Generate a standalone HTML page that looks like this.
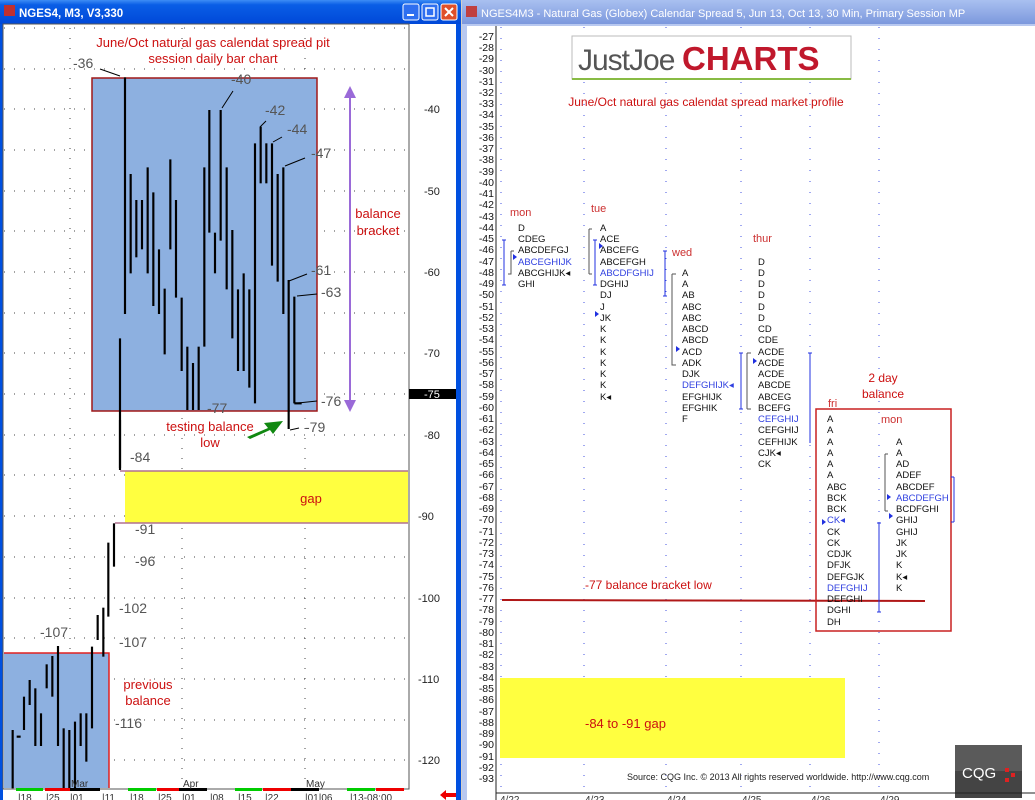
<!DOCTYPE html>
<html><head><meta charset="utf-8"><style>
body{margin:0;width:1035px;height:800px;overflow:hidden;background:#d4d0c8;font-family:"Liberation Sans",sans-serif;}
svg{position:absolute;left:0;top:0}
</style></head><body>
<svg width="1035" height="800" viewBox="0 0 1035 800" font-family="Liberation Sans, sans-serif">
<defs>
<linearGradient id="tb" x1="0" y1="0" x2="0" y2="1"><stop offset="0" stop-color="#3d8df5"/><stop offset="0.2" stop-color="#0a5ee6"/><stop offset="1" stop-color="#0048d8"/></linearGradient>
<linearGradient id="tb2" x1="0" y1="0" x2="0" y2="1"><stop offset="0" stop-color="#a9c0f0"/><stop offset="1" stop-color="#7c98dd"/></linearGradient>
</defs>
<!-- LEFT WINDOW -->
<rect x="0" y="0" width="461" height="800" fill="#0050e0"/>
<rect x="0" y="0" width="461" height="24" fill="url(#tb)"/>
<rect x="4" y="5" width="11" height="11" fill="#c03030"/>
<text x="19" y="17" font-size="11.5" font-weight="bold" fill="#fff">NGES4, M3, V3,330</text>
<rect x="403" y="4" width="16" height="16" rx="2" fill="#2e6ff0" stroke="#fff"/>
<rect x="407" y="14" width="7" height="2" fill="#fff"/>
<rect x="422" y="4" width="16" height="16" rx="2" fill="#2e6ff0" stroke="#fff"/>
<rect x="426" y="8" width="8" height="8" fill="none" stroke="#fff" stroke-width="1.5"/>
<rect x="441" y="4" width="16" height="16" rx="2" fill="#e0502a" stroke="#fff"/>
<path d="M445 8l8 8M453 8l-8 8" stroke="#fff" stroke-width="2"/>
<rect x="3" y="24" width="453" height="776" fill="#fff"/>
<rect x="3" y="24" width="406" height="765" fill="#fff" stroke="#555" stroke-width="1"/>
<!-- grid -->
<g stroke="#444" stroke-dasharray="1,9" stroke-width="1">
<line x1="4" y1="28" x2="408" y2="28"/><line x1="4" y1="69" x2="408" y2="69"/><line x1="4" y1="109" x2="408" y2="109"/><line x1="4" y1="150" x2="408" y2="150"/><line x1="4" y1="191" x2="408" y2="191"/><line x1="4" y1="231" x2="408" y2="231"/><line x1="4" y1="272" x2="408" y2="272"/><line x1="4" y1="313" x2="408" y2="313"/><line x1="4" y1="353" x2="408" y2="353"/><line x1="4" y1="394" x2="408" y2="394"/><line x1="4" y1="435" x2="408" y2="435"/><line x1="4" y1="475" x2="408" y2="475"/><line x1="4" y1="516" x2="408" y2="516"/><line x1="4" y1="557" x2="408" y2="557"/><line x1="4" y1="598" x2="408" y2="598"/><line x1="4" y1="638" x2="408" y2="638"/><line x1="4" y1="679" x2="408" y2="679"/><line x1="4" y1="720" x2="408" y2="720"/><line x1="4" y1="760" x2="408" y2="760"/>
<line x1="70" y1="28" x2="70" y2="788"/><line x1="182" y1="28" x2="182" y2="788"/><line x1="305" y1="28" x2="305" y2="788"/>
</g>
<!-- balance box -->
<rect x="92" y="78" width="225" height="333" fill="#8db0e0" stroke="#a01818" stroke-width="1.5"/>
<rect x="125" y="471" width="283" height="52" fill="#ffff40"/>
<line x1="120" y1="471" x2="408" y2="471" stroke="#b07090" stroke-width="1.5"/>
<line x1="115" y1="523" x2="408" y2="523" stroke="#b07090" stroke-width="1.5"/>
<rect x="4" y="653" width="105" height="135" fill="#8db0e0"/>
<path d="M4 653H109V788" fill="none" stroke="#e02020" stroke-width="1.5"/>
<!-- bars zoom1 coords -->
<g transform="scale(0.33333)" stroke="#000" stroke-width="6.5">
<line x1="360" y1="1015" x2="360" y2="1404"/><line x1="375" y1="232" x2="375" y2="942"/><line x1="392" y1="522" x2="392" y2="820"/><line x1="409" y1="600" x2="409" y2="772"/><line x1="426" y1="600" x2="426" y2="748"/><line x1="443" y1="502" x2="443" y2="820"/><line x1="460" y1="577" x2="460" y2="918"/><line x1="477" y1="748" x2="477" y2="942"/><line x1="494" y1="866" x2="494" y2="1063"/><line x1="511" y1="478" x2="511" y2="748"/><line x1="528" y1="600" x2="528" y2="893"/><line x1="545" y1="893" x2="545" y2="1113"/><line x1="562" y1="1040" x2="562" y2="1230"/><line x1="579" y1="1089" x2="579" y2="1230"/><line x1="596" y1="1040" x2="596" y2="1230"/><line x1="613" y1="502" x2="613" y2="1040"/><line x1="628" y1="330" x2="628" y2="698"/><line x1="645" y1="698" x2="645" y2="820"/><line x1="662" y1="330" x2="662" y2="722"/><line x1="680" y1="502" x2="680" y2="868"/><line x1="697" y1="690" x2="697" y2="1015"/><line x1="714" y1="868" x2="714" y2="1113"/><line x1="731" y1="820" x2="731" y2="1113"/><line x1="748" y1="868" x2="748" y2="1163"/><line x1="765" y1="430" x2="765" y2="1210"/><line x1="782" y1="380" x2="782" y2="550"/><line x1="799" y1="430" x2="799" y2="550"/><line x1="816" y1="430" x2="816" y2="797"/><line x1="833" y1="522" x2="833" y2="845"/><line x1="850" y1="502" x2="850" y2="942"/><line x1="866" y1="840" x2="866" y2="1287"/><line x1="883" y1="890" x2="883" y2="1210"/><line x1="883" y1="1210" x2="905" y2="1210"/>
</g>
<g transform="translate(0,420) scale(0.33333)" stroke="#000" stroke-width="6.5">
<line x1="38" y1="930" x2="38" y2="1105"/><line x1="50" y1="950" x2="62" y2="950"/><line x1="72" y1="830" x2="72" y2="930"/><line x1="89" y1="780" x2="89" y2="855"/><line x1="106" y1="805" x2="106" y2="978"/><line x1="123" y1="880" x2="123" y2="978"/><line x1="140" y1="733" x2="140" y2="805"/><line x1="157" y1="708" x2="157" y2="830"/><line x1="174" y1="678" x2="174" y2="978"/><line x1="191" y1="925" x2="191" y2="1105"/><line x1="208" y1="930" x2="208" y2="1105"/><line x1="225" y1="905" x2="225" y2="1105"/><line x1="242" y1="880" x2="242" y2="978"/><line x1="259" y1="880" x2="259" y2="1025"/><line x1="276" y1="680" x2="276" y2="925"/><line x1="293" y1="585" x2="293" y2="660"/><line x1="310" y1="563" x2="310" y2="710"/><line x1="325" y1="368" x2="325" y2="590"/><line x1="342" y1="310" x2="342" y2="440"/><line x1="360" y1="0" x2="360" y2="150"/>
</g>
<!-- labels left -->
<g font-size="14" fill="#555">
<text x="73" y="68">-36</text><text x="231" y="84">-40</text><text x="265" y="115">-42</text><text x="287" y="134">-44</text><text x="311" y="158">-47</text><text x="311" y="275">-61</text><text x="321" y="297">-63</text><text x="321" y="406">-76</text><text x="207" y="413">-77</text><text x="305" y="432">-79</text><text x="130" y="462">-84</text><text x="135" y="534">-91</text><text x="135" y="566">-96</text><text x="119" y="613">-102</text><text x="119" y="647">-107</text><text x="40" y="637">-107</text><text x="115" y="728">-116</text>
</g>
<g stroke="#000" stroke-width="1"><line x1="100" y1="69" x2="120" y2="76"/><line x1="233" y1="91" x2="222" y2="108"/><line x1="266" y1="121" x2="260" y2="127"/><line x1="282" y1="137" x2="273" y2="142"/><line x1="305" y1="158" x2="285" y2="166"/><line x1="307" y1="274" x2="289" y2="281"/><line x1="317" y1="294" x2="297" y2="296"/><line x1="317" y1="401" x2="298" y2="403"/><line x1="299" y1="428" x2="290" y2="430"/></g>
<line x1="350" y1="90" x2="350" y2="408" stroke="#9a6ad8" stroke-width="2"/>
<path d="M344 98L350 86L356 98Z M344 400L350 412L356 400Z" fill="#9a6ad8"/>
<g fill="#cc1010" font-size="13" text-anchor="middle">
<text x="213" y="47">June/Oct natural gas calendat spread pit</text><text x="213" y="63">session daily bar chart</text>
<text x="378" y="218">balance</text><text x="378" y="235">bracket</text>
<text x="210" y="431">testing balance</text><text x="210" y="447">low</text>
<text x="311" y="503">gap</text>
<text x="148" y="689">previous</text><text x="148" y="705">balance</text>
</g>
<path d="M247 437L268 428L264 423L283 421L273 434L270 430L250 439Z" fill="#118811"/>
<!-- right axis -->
<g font-size="11" fill="#222">
<text x="424" y="113">-40</text><text x="424" y="195">-50</text><text x="424" y="276">-60</text><text x="424" y="357">-70</text><text x="424" y="439">-80</text><text x="418" y="520">-90</text><text x="418" y="602">-100</text><text x="418" y="683">-110</text><text x="418" y="764">-120</text>
</g>
<rect x="409" y="389" width="47" height="10" fill="#000"/><text x="424" y="398" font-size="11" fill="#fff">-75</text>
<!-- date axis -->
<rect x="16" y="788" width="27" height="3" fill="#0c0"/><rect x="45" y="788" width="25" height="3" fill="#e00"/><rect x="70" y="788" width="30" height="3" fill="#000"/>
<rect x="128" y="788" width="28" height="3" fill="#0c0"/><rect x="157" y="788" width="22" height="3" fill="#e00"/><rect x="179" y="788" width="28" height="3" fill="#000"/>
<rect x="235" y="788" width="27" height="3" fill="#0c0"/><rect x="263" y="788" width="28" height="3" fill="#e00"/><rect x="291" y="788" width="28" height="3" fill="#000"/>
<rect x="347" y="788" width="28" height="3" fill="#0c0"/><rect x="376" y="788" width="28" height="3" fill="#e00"/>
<g font-size="10" fill="#333"><text x="71" y="787">Mar</text><text x="183" y="787">Apr</text><text x="306" y="787">May</text>
<text x="18" y="801">|18 </text><text x="46" y="801">|25</text><text x="70" y="801">|01</text><text x="102" y="801">|11</text><text x="130" y="801">|18</text><text x="158" y="801">|25</text><text x="182" y="801">|01</text><text x="210" y="801">|08</text><text x="238" y="801">|15</text><text x="265" y="801">|22</text><text x="305" y="801">|01|06</text><text x="350" y="801">|13-08:00</text></g>
<path d="M440 795L446 790V793H456V797H446V800Z" fill="#e00"/>

<!-- RIGHT WINDOW -->
<rect x="462" y="0" width="573" height="800" fill="#b8c8f0"/>
<rect x="462" y="0" width="573" height="24" fill="url(#tb2)"/>
<rect x="466" y="6" width="11" height="11" fill="#c04040"/>
<text x="481" y="17" font-size="11" fill="#fff">NGES4M3 - Natural Gas (Globex) Calendar Spread 5, Jun 13, Oct 13, 30 Min, Primary Session MP</text>
<rect x="467" y="26" width="568" height="774" fill="#fff"/>
<line x1="496" y1="26" x2="496" y2="800" stroke="#222"/>
<g stroke="#4050e0" stroke-dasharray="1,10" stroke-width="1"><line x1="501" y1="27" x2="501" y2="795"/><line x1="584" y1="27" x2="584" y2="795"/><line x1="666" y1="27" x2="666" y2="795"/><line x1="741" y1="27" x2="741" y2="795"/><line x1="810" y1="27" x2="810" y2="795"/><line x1="879" y1="27" x2="879" y2="795"/></g>
<g font-size="10.5" fill="#111" text-anchor="end">
<text x="494" y="40">-27</text><text x="494" y="51">-28</text><text x="494" y="62">-29</text><text x="494" y="74">-30</text><text x="494" y="85">-31</text><text x="494" y="96">-32</text><text x="494" y="107">-33</text><text x="494" y="118">-34</text><text x="494" y="130">-35</text><text x="494" y="141">-36</text><text x="494" y="152">-37</text><text x="494" y="163">-38</text><text x="494" y="175">-39</text><text x="494" y="186">-40</text><text x="494" y="197">-41</text><text x="494" y="208">-42</text><text x="494" y="220">-43</text><text x="494" y="231">-44</text><text x="494" y="242">-45</text><text x="494" y="253">-46</text><text x="494" y="265">-47</text><text x="494" y="276">-48</text><text x="494" y="287">-49</text><text x="494" y="298">-50</text><text x="494" y="310">-51</text><text x="494" y="321">-52</text><text x="494" y="332">-53</text><text x="494" y="343">-54</text><text x="494" y="355">-55</text><text x="494" y="366">-56</text><text x="494" y="377">-57</text><text x="494" y="388">-58</text><text x="494" y="400">-59</text><text x="494" y="411">-60</text><text x="494" y="422">-61</text><text x="494" y="433">-62</text><text x="494" y="445">-63</text><text x="494" y="456">-64</text><text x="494" y="467">-65</text><text x="494" y="478">-66</text><text x="494" y="490">-67</text><text x="494" y="501">-68</text><text x="494" y="512">-69</text><text x="494" y="523">-70</text><text x="494" y="535">-71</text><text x="494" y="546">-72</text><text x="494" y="557">-73</text><text x="494" y="568">-74</text><text x="494" y="580">-75</text><text x="494" y="591">-76</text><text x="494" y="602">-77</text><text x="494" y="613">-78</text><text x="494" y="625">-79</text><text x="494" y="636">-80</text><text x="494" y="647">-81</text><text x="494" y="658">-82</text><text x="494" y="670">-83</text><text x="494" y="681">-84</text><text x="494" y="692">-85</text><text x="494" y="703">-86</text><text x="494" y="715">-87</text><text x="494" y="726">-88</text><text x="494" y="737">-89</text><text x="494" y="748">-90</text><text x="494" y="760">-91</text><text x="494" y="771">-92</text><text x="494" y="782">-93</text>
</g>
<!-- logo -->
<rect x="572" y="36" width="279" height="43" fill="#fff" stroke="#bbb"/><line x1="572" y1="79" x2="851" y2="79" stroke="#8b4" stroke-width="2"/>
<text x="578" y="70" font-size="30" fill="#555" letter-spacing="-1">JustJoe</text><text x="682" y="70" font-size="33" font-weight="bold" fill="#c0182c">CHARTS</text>
<text x="706" y="106" font-size="12" fill="#cc1010" text-anchor="middle">June/Oct natural gas calendat spread market profile</text>
<rect x="500" y="678" width="345" height="80" fill="#ffff40"/>
<text x="585" y="728" font-size="13" fill="#cc1010">-84 to -91 gap</text>
<line x1="502" y1="600" x2="925" y2="601" stroke="#b01818" stroke-width="2"/>
<text x="585" y="589" font-size="12" fill="#cc1010">-77 balance bracket low</text>
<rect x="816" y="409" width="135" height="222" fill="none" stroke="#c82020" stroke-width="1.5"/>
<g fill="#cc1010" font-size="12" text-anchor="middle"><text x="883" y="382">2 day</text><text x="883" y="398">balance</text></g>
<g fill="#cc3030" font-size="11"><text x="510" y="216">mon</text><text x="591" y="212">tue</text><text x="672" y="256">wed</text><text x="753" y="242">thur</text><text x="828" y="407">fri</text><text x="881" y="423">mon</text></g>
<!-- brackets -->
<g fill="none" stroke-width="1">
<path d="M504 240V285M502 240H506M502 285H506" stroke="#2030e0"/><path d="M511 251V274H508M511 251H514" stroke="#555"/>
<path d="M589 229V274M589 229H592M589 274H592" stroke="#555"/><path d="M595 240V285M593 240H597M593 285H597" stroke="#2030e0"/>
<path d="M665 251V296M663 251H667M663 296H667" stroke="#2030e0"/><path d="M672 274V365H676M672 274H676" stroke="#555"/>
<path d="M741 353V409M739 353H743M739 409H743" stroke="#2030e0"/><path d="M747 353V409M747 353H751M747 409H751" stroke="#555"/>
<path d="M810 353V443M808 353H812" stroke="#2030e0"/>
<path d="M879 523V612M877 523H881M877 612H881" stroke="#2030e0"/>
<path d="M885 454V511M885 454H888M885 511H888" stroke="#555"/>
<path d="M954 477V522M951 477H954M951 522H954" stroke="#2030e0"/>
</g>
<g fill="#2030e0"><path d="M513 254l4 3l-4 3z"/><path d="M599 243l4 3l-4 3z"/><path d="M595 311l4 3l-4 3z"/><path d="M676 346l4 3l-4 3z"/><path d="M753 358l4 3l-4 3z"/><path d="M822 519l4 3l-4 3z"/><path d="M887 494l4 3l-4 3z"/><path d="M889 513l4 3l-4 3z"/></g>
<!-- profile text -->
<g font-size="9.5" fill="#111">
<text x="518" y="231">D</text><text x="518" y="242">CDEG</text><text x="518" y="253">ABCDEFGJ</text><text x="518" y="265" fill="#3040e0">ABCEGHIJK</text><text x="518" y="276">ABCGHIJK◂</text><text x="518" y="287">GHI</text>
<text x="600" y="231">A</text><text x="600" y="242">ACE</text><text x="600" y="253">ABCEFG</text><text x="600" y="265">ABCEFGH</text><text x="600" y="276" fill="#3040e0">ABCDFGHIJ</text><text x="600" y="287">DGHIJ</text><text x="600" y="298">DJ</text><text x="600" y="310">J</text><text x="600" y="321">JK</text><text x="600" y="332">K</text><text x="600" y="343">K</text><text x="600" y="355">K</text><text x="600" y="366">K</text><text x="600" y="377">K</text><text x="600" y="388">K</text><text x="600" y="400">K◂</text>
<text x="682" y="276">A</text><text x="682" y="287">A</text><text x="682" y="298">AB</text><text x="682" y="310">ABC</text><text x="682" y="321">ABC</text><text x="682" y="332">ABCD</text><text x="682" y="343">ABCD</text><text x="682" y="355">ACD</text><text x="682" y="366">ADK</text><text x="682" y="377">DJK</text><text x="682" y="388" fill="#3040e0">DEFGHIJK◂</text><text x="682" y="400">EFGHIJK</text><text x="682" y="411">EFGHIK</text><text x="682" y="422">F</text>
<text x="758" y="265">D</text><text x="758" y="276">D</text><text x="758" y="287">D</text><text x="758" y="298">D</text><text x="758" y="310">D</text><text x="758" y="321">D</text><text x="758" y="332">CD</text><text x="758" y="343">CDE</text><text x="758" y="355">ACDE</text><text x="758" y="366">ACDE</text><text x="758" y="377">ACDE</text><text x="758" y="388">ABCDE</text><text x="758" y="400">ABCEG</text><text x="758" y="411">BCEFG</text><text x="758" y="422" fill="#3040e0">CEFGHIJ</text><text x="758" y="433">CEFGHIJ</text><text x="758" y="445">CEFHIJK</text><text x="758" y="456">CJK◂</text><text x="758" y="467">CK</text>
<text x="827" y="422">A</text><text x="827" y="433">A</text><text x="827" y="445">A</text><text x="827" y="456">A</text><text x="827" y="467">A</text><text x="827" y="478">A</text><text x="827" y="490">ABC</text><text x="827" y="501">BCK</text><text x="827" y="512">BCK</text><text x="827" y="523" fill="#3040e0">CK◂</text><text x="827" y="535">CK</text><text x="827" y="546">CK</text><text x="827" y="557">CDJK</text><text x="827" y="568">DFJK</text><text x="827" y="580">DEFGJK</text><text x="827" y="591" fill="#3040e0">DEFGHIJ</text><text x="827" y="602">DEFGHI</text><text x="827" y="613">DGHI</text><text x="827" y="625">DH</text>
<text x="896" y="445">A</text><text x="896" y="456">A</text><text x="896" y="467">AD</text><text x="896" y="478">ADEF</text><text x="896" y="490">ABCDEF</text><text x="896" y="501" fill="#3040e0">ABCDEFGH</text><text x="896" y="512">BCDFGHI</text><text x="896" y="523">GHIJ</text><text x="896" y="535">GHIJ</text><text x="896" y="546">JK</text><text x="896" y="557">JK</text><text x="896" y="568">K</text><text x="896" y="580">K◂</text><text x="896" y="591">K</text>
</g>
<text x="627" y="780" font-size="9" fill="#222">Source: CQG Inc. © 2013 All rights reserved worldwide. http://www.cqg.com</text>
<rect x="955" y="745" width="67" height="53" fill="#444"/><rect x="955" y="745" width="67" height="26" fill="#5a5a5a"/>
<text x="962" y="778" font-size="15" fill="#fff">CQG</text><rect x="1005" y="768" width="4" height="4" fill="#d22"/><rect x="1011" y="773" width="4" height="4" fill="#d22"/><rect x="1005" y="778" width="4" height="4" fill="#d22"/>
<line x1="496" y1="793" x2="1035" y2="793" stroke="#222"/>
<g font-size="10" fill="#333"><text x="500" y="803">4/22</text><text x="585" y="803">4/23</text><text x="667" y="803">4/24</text><text x="742" y="803">4/25</text><text x="811" y="803">4/26</text><text x="880" y="803">4/29</text></g>
</svg>
</body></html>
